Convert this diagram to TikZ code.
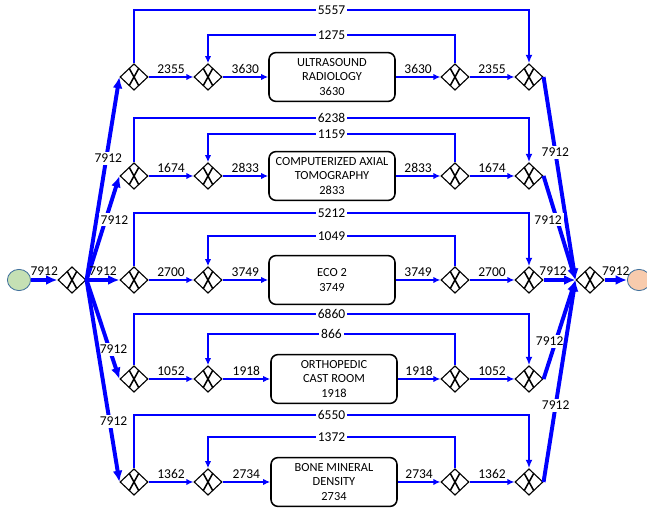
\documentclass[tikz,border=0pt]{standalone}
\usepackage{fontspec}
\setmainfont{Carlito}
\usetikzlibrary{shapes.geometric,arrows.meta}
\definecolor{flow}{HTML}{0000FF}
\definecolor{startfill}{HTML}{C5E0B4}
\definecolor{endfill}{HTML}{F8CBAD}
\definecolor{evrim}{HTML}{41719C}

\tikzset{
  gate/.style={diamond,draw=black,line width=0.8pt,fill=white,inner sep=0pt,
    minimum width=0.7cm,minimum height=0.66cm,
    path picture={
      \draw[line width=1.1pt] ([shift={(-5,-9)}]path picture bounding box.center)
        -- ([shift={(5,9)}]path picture bounding box.center);
      \draw[line width=1.1pt] ([shift={(5,-9)}]path picture bounding box.center)
        -- ([shift={(-5,9)}]path picture bounding box.center);
    }},
  task/.style={draw=black,line width=1.1pt,rounded corners=5pt,fill=white,align=center,
    minimum width=3.15cm,minimum height=1.22cm,font=\fontsize{8.8}{10.6}\selectfont},
  event/.style={ellipse,draw=evrim,line width=0.6pt,minimum width=0.58cm,minimum height=0.53cm},
  bigflow/.style={flow,line width=2.8pt,-{Latex[length=8pt,width=7pt]}},
  backflow/.style={flow,line width=2pt,-{Latex[length=6pt,width=5pt]}},
  smallflow/.style={flow,line width=1.3pt,-{Latex[length=5pt,width=4.5pt]}},
  lbl/.style={font=\fontsize{9.6}{11}\selectfont,text=black,inner sep=1.5pt},
  onl/.style={lbl,fill=white},
}

\begin{document}
\begin{tikzpicture}[x=0.025cm,y=-0.025cm]
  \useasboundingbox (0,0) rectangle (647,510);

  % start, split, join, end
  \node[event,fill=startfill] (start) at (19,280) {};
  \node[gate] (split) at (72,280) {};
  \node[gate] (join) at (590,280) {};
  \node[event,fill=endfill] (stop) at (639,280) {};
  \draw[bigflow] (start.east) -- node[lbl,above] {7912} (split.west);
  \draw[bigflow] (join.east) -- node[lbl,above] {7912} (stop.west);

  % rooms
  \node[task] (room1) at (332,77) {ULTRASOUND\\RADIOLOGY\\3630};
  \node[task] (room2) at (332,176) {COMPUTERIZED AXIAL\\TOMOGRAPHY\\2833};
  \node[task] (room3) at (332,280) {ECO 2\\3749};
  \node[task] (room4) at (334,379) {ORTHOPEDIC\\CAST ROOM\\1918};
  \node[task] (room5) at (334,482) {BONE MINERAL\\DENSITY\\2734};

  % gateways and flows of each row
  \foreach \rw/\y/\yo/\yi/\qa/\qb/\qo/\qi in {
    1/77/10/35/2355/3630/5557/1275,
    2/176/118/134/1674/2833/6238/1159,
    3/280/213/236/2700/3749/5212/1049,
    4/379/314/334/1052/1918/6860/866,
    5/482/415/437/1362/2734/6550/1372
  } {
    \node[gate] (open\rw) at (134,\y) {};
    \node[gate] (enter\rw) at (208,\y) {};
    \node[gate] (leave\rw) at (455,\y) {};
    \node[gate] (close\rw) at (529,\y) {};
    \coordinate (openup\rw) at (134,\yo);
    \coordinate (closeup\rw) at (529,\yo);
    \coordinate (leaveup\rw) at (455,\yi);
    \coordinate (enterup\rw) at (208,\yi);

    \draw[smallflow] (open\rw.east) -- node[lbl,above] {\qa} (enter\rw.west);
    \draw[smallflow] (enter\rw.east) -- node[lbl,above] {\qb} (room\rw.west);
    \draw[smallflow] (room\rw.east) -- node[lbl,above] {\qb} (leave\rw.west);
    \draw[smallflow] (leave\rw.east) -- node[lbl,above] {\qa} (close\rw.west);
    \draw[backflow] (open\rw.north) -- (openup\rw) -- node[onl] {\qo} (closeup\rw) -- (close\rw.north);
    \draw[smallflow] (leave\rw.north) -- (leaveup\rw) -- node[onl] {\qi} (enterup\rw) -- (enter\rw.north);
  }

  % fan out
  \draw[bigflow] (split.east) -- node[onl,pos=0.6,xshift=0.05cm] {7912} (open1.west);
  \draw[bigflow] (split.east) -- node[onl,pos=0.58,xshift=0.22cm] {7912} (open2.west);
  \draw[bigflow] (split.east) -- node[lbl,above] {7912} (open3.west);
  \draw[bigflow] (split.east) -- node[onl,pos=0.7,xshift=0.1cm] {7912} (open4.west);
  \draw[bigflow] (split.east) -- node[onl,pos=0.7,xshift=0.1cm] {7912} (open5.west);

  % fan in
  \draw[bigflow] (close1.east) -- node[onl,pos=0.37] {7912} (join.west);
  \draw[bigflow] (close2.east) -- node[onl,pos=0.42,xshift=-0.22cm] {7912} (join.west);
  \draw[bigflow] (close3.east) -- node[lbl,above,pos=0.3] {7912} (join.west);
  \draw[bigflow] (close4.east) -- node[onl,pos=0.38,xshift=-0.15cm] {7912} (join.west);
  \draw[bigflow] (close5.east) -- node[onl,pos=0.38] {7912} (join.west);
\end{tikzpicture}
\end{document}
